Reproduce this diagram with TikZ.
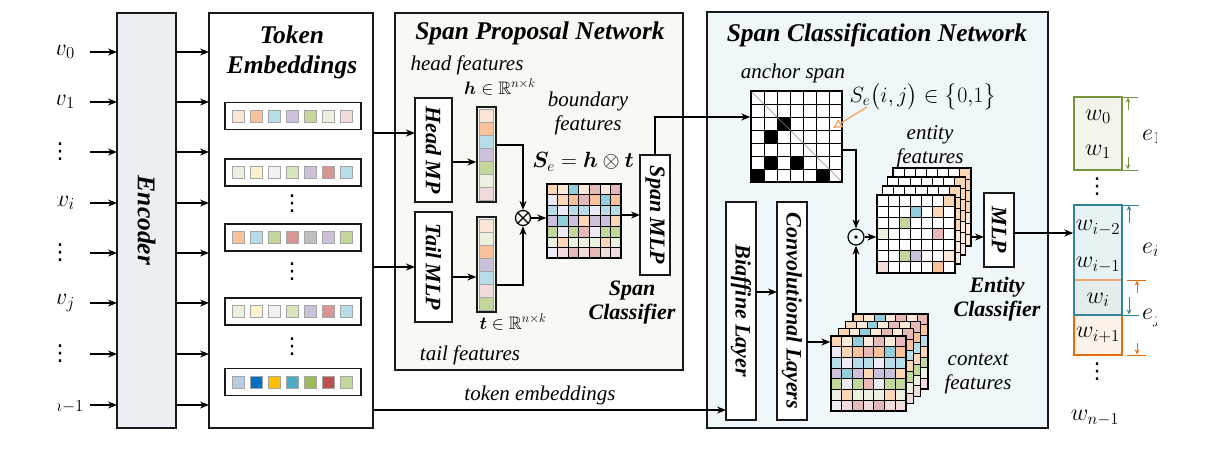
\RequirePackage{fix-cm}
\documentclass[tikz,border=0pt]{standalone}
\usepackage{amsmath,amssymb,bm}
\usepackage{fontspec}
\setmainfont{Liberation Serif}
\newfontfamily\dejavu{DejaVu Sans}
\usetikzlibrary{arrows.meta,calc}
\definecolor{cA}{HTML}{FBE5D6}
\definecolor{cB}{HTML}{F9C29B}
\definecolor{cC}{HTML}{B7DEE8}
\definecolor{cD}{HTML}{CCC0DA}
\definecolor{cE}{HTML}{C4D79B}
\definecolor{cF}{HTML}{EBF1DE}
\definecolor{cG}{HTML}{F2DCDB}
\definecolor{cH}{HTML}{FFF2CC}
\definecolor{cI}{HTML}{F2F2F2}
\definecolor{cJ}{HTML}{D8E4BC}
\definecolor{cK}{HTML}{DA9694}
\definecolor{cL}{HTML}{BFBFBF}
\definecolor{cM}{HTML}{B8CCE4}
\definecolor{cN}{HTML}{0070C0}
\definecolor{cO}{HTML}{FFC000}
\definecolor{cP}{HTML}{4BACC6}
\definecolor{cQ}{HTML}{9BBB59}
\definecolor{cR}{HTML}{C0504D}
\definecolor{cS}{HTML}{92CDDC}
\definecolor{cT}{HTML}{E6B8B7}
\definecolor{cU}{HTML}{FCD5B4}
\definecolor{cV}{HTML}{FDE9D9}
\definecolor{cW}{HTML}{ECEAF2}
\definecolor{encfill}{HTML}{EBEEF3}
\definecolor{spnfill}{HTML}{F7F9F4}
\definecolor{scnfill}{HTML}{EFF7FB}
\definecolor{grn}{HTML}{77933C}
\definecolor{grnfill}{HTML}{F2F5EB}
\definecolor{blu}{HTML}{31849B}
\definecolor{blufill}{HTML}{E7F2F5}
\definecolor{org}{HTML}{E46C0A}
\definecolor{orgfill}{HTML}{FDF2E9}
\definecolor{ovfill}{HTML}{E4ECEC}
\definecolor{sqedge}{HTML}{A6A6A6}
\definecolor{oarrow}{HTML}{F4A460}
\newcommand\titlef{\fontsize{25.5}{30}\selectfont\bfseries\itshape}
\newcommand\labf{\fontsize{21}{24}\selectfont\itshape}
\newcommand\boxf{\fontsize{22}{24}\selectfont\bfseries\itshape}
\newcommand\wf{\fontsize{24}{26}\selectfont}
\newcommand\vd{{\dejavu\fontsize{22}{24}\selectfont ⋮}}
\def\ctxlist{cU,cV,cS,cV,cT,cV,cT,
cW,cU,cB,cT,cB,cS,cB,
cC,cW,cC,cC,cW,cC,cC,
cD,cS,cD,cU,cD,cD,cU,
cE,cW,cE,cT,cW,cE,cE,
cF,cU,cF,cF,cF,cU,cF,
cW,cG,cT,cG,cT,cG,cG}
\def\entlist{white,white,white,white,white,white,cU,
white,white,white,cS,white,cU,white,
white,white,cE,white,white,white,white,
cF,white,white,white,white,cT,white,
white,white,white,white,white,white,white,
white,white,cE,cD,white,white,cV,
cG,white,white,white,white,cB,white}
\def\entback{white,white,white,white,white,white,cU,
white,white,white,white,white,white,cU,
white,white,white,white,white,white,cU,
white,white,white,white,white,white,cU,
white,white,white,white,white,white,cV,
white,white,white,white,white,white,cV,
white,white,white,white,white,white,cV}
\def\anclist{white,white,white,white,white,white,white,
white,white,white,white,white,white,white,
white,white,black,white,white,white,white,
white,black,white,white,white,white,white,
white,white,white,white,white,white,white,
white,black,white,black,white,white,white,
black,white,white,white,white,black,white}
% #1 x0, #2 y0, #3 cell size, #4 grid line width, #5 colour list macro
\newcommand\mygrid[5]{%
  \foreach \cc [count=\gk from 0] in #5 {%
    \pgfmathtruncatemacro\rr{\gk/7}%
    \pgfmathtruncatemacro\ccol{\gk-7*\rr}%
    \fill[\cc] ({#1+\ccol*#3},{#2+\rr*#3}) rectangle ++(#3,#3);
  }%
  \foreach \gi in {1,...,6}{%
    \draw[line width=#4] ({#1+\gi*#3},#2) -- ++(0,{7*#3});
    \draw[line width=#4] (#1,{#2+\gi*#3}) -- ++({7*#3},0);
  }%
}
% token embedding row: #1 centre y, #2..#8 colours
\newcommand\embrow[8]{%
  \foreach \cc [count=\ek from 0] in {#2,#3,#4,#5,#6,#7,#8}{%
    \filldraw[fill=\cc,draw=sqedge,line width=0.8pt] ({232+18*\ek},{#1-6}) rectangle ++(12,12);
  }%
}
\begin{document}
\begin{tikzpicture}[x=1pt,y=-1pt,
  arr/.style={-{Stealth[length=9pt,width=7pt]},line width=1.3pt},
  bigbox/.style={draw=black!90,line width=2pt,inner sep=0pt,outer sep=0pt},
  smallbox/.style={draw=black!90,line width=1.4pt,fill=white,inner sep=0pt,outer sep=0pt},
  rowbox/.style={draw=black!90,line width=1.5pt,inner sep=0pt,outer sep=0pt,minimum width=136pt,minimum height=27pt},
  rot/.style={rotate=-90,inner sep=0pt,font=\boxf},
  lab/.style={inner sep=0pt,font=\labf,align=center},
  dimtip/.style={-{Stealth[length=5pt,width=4.5pt]},line width=1pt},
  celldraw/.style={draw=sqedge,line width=0.7pt}
]
\useasboundingbox (0,0) rectangle (1211,456);
\fill[white] (0,0) rectangle (1211,456);
\clip (57,0) rectangle (1156,456);

% ---------------- Encoder & token embeddings ----------------
\node[bigbox,fill=encfill,minimum width=59pt,minimum height=415pt] (enc) at (146.5,220.5) {};
\node[rot,font=\titlef] (enct) at (enc.center) {Encoder};
\node[bigbox,fill=white,minimum width=164pt,minimum height=415pt] (tok) at (291,220.5) {};
\node[inner sep=0pt,font=\titlef,align=center] (tokt) at (292,52) {\fontsize{25.5}{32}\selectfont Token\\Embeddings};

% input labels and arrows
\foreach \yy/\lbl [count=\n] in {52/$w_0$,102/$w_1$,203/$w_i$,303/$w_j$}{
  \node[anchor=east,inner sep=0pt,font=\wf] (win\n) at (75,\yy) {\lbl};
}
\node[anchor=east,inner sep=0pt,font=\wf] (winl) at (84,405) {$w_{n-1}$};
\foreach \yy [count=\n] in {152,253,354}{
  \node[inner sep=0pt] (wdot\n) at (60,\yy) {\vd};
}
\foreach \yy [count=\n] in {52,102,152,203,253,303,354,405}{
  \coordinate (ia\n) at (90,\yy);
  \draw[arr] (ia\n) -- (ia\n -| enc.west);
  \draw[arr] (ia\n -| enc.east) -- (ia\n -| tok.west);
}

% embedding rows
\node[rowbox] (r1) at (293,116) {};
\node[rowbox] (r2) at (293,172.5) {};
\node[rowbox] (r3) at (293,237.5) {};
\node[rowbox] (r4) at (293,311.5) {};
\node[rowbox] (r5) at (293,382) {};
\embrow{116}{cA}{cB}{cC}{cD}{cE}{cF}{cG}
\embrow{172.5}{cF}{cH}{cI}{cJ}{cD}{cK}{cC}
\embrow{237.5}{cB}{cC}{cE}{cK}{cL}{cD}{cE}
\embrow{311.5}{cF}{cH}{cI}{cJ}{cD}{cK}{cC}
\embrow{382}{cM}{cN}{cO}{cP}{cQ}{cR}{cE}
\foreach \yy [count=\n] in {204,272,347}{
  \node[inner sep=0pt] (tdot\n) at (292,\yy) {\vd};
}

% ---------------- Span Proposal Network ----------------
\node[bigbox,fill=spnfill,minimum width=288pt,minimum height=357pt] (spn) at (539,191.5) {};
\node[inner sep=0pt,font=\titlef] (spnt) at (540,33) {Span Proposal Network};
\node[lab] (headf) at (467,65) {head features};
\node[lab] (tailf) at (470,355) {tail features};
\node[smallbox,minimum width=37pt,minimum height=104pt] (headmp) at (433.5,150) {};
\node[rot] (headmpt) at (headmp.center) {Head MP};
\node[smallbox,minimum width=37pt,minimum height=110pt] (tailmp) at (433.5,267) {};
\node[rot] (tailmpt) at (tailmp.center) {Tail MLP};

% h and t vectors
\foreach \cc [count=\vk from 0] in {cA,cB,cC,cD,cE,cF,cG}{
  \filldraw[fill=\cc,celldraw] (479.5,{109+13.1*\vk}) rectangle ++(14,13.1);
}
\foreach \cc [count=\vk from 0] in {cA,cF,cB,cD,cC,cG,cE}{
  \filldraw[fill=\cc,celldraw] (479.5,{219+13.1*\vk}) rectangle ++(14,13.1);
}
\node[draw=black!90,line width=1.3pt,minimum width=19pt,minimum height=95pt,inner sep=0pt] (hvec) at (486.5,154.5) {};
\node[draw=black!90,line width=1.3pt,minimum width=19pt,minimum height=95pt,inner sep=0pt] (tvec) at (486.5,264.5) {};
\node[inner sep=0pt,font=\fontsize{18}{20}\selectfont] (hlab) at (500,87) {$\bm{h}\in\mathbb{R}^{n\times k}$};
\node[inner sep=0pt,font=\fontsize{18}{20}\selectfont] (tlab) at (513,322) {$\bm{t}\in\mathbb{R}^{n\times k}$};

\coordinate (hmo) at (452,162);
\coordinate (tmo) at (452,277);
\draw[arr] (hmo) -- (hmo -| hvec.west);
\draw[arr] (tmo) -- (tmo -| tvec.west);

% otimes
\node[circle,draw=black,line width=1.2pt,minimum size=15pt,inner sep=0pt] (ot) at (523,218) {};
\draw[line width=1.1pt] (ot.north west) -- (ot.south east) (ot.north east) -- (ot.south west);
\coordinate (hvo) at (496,145);
\coordinate (tvo) at (496,285);
\draw[arr] (hvo) -| (ot.north);
\draw[arr] (tvo) -| (ot.south);

% Se matrix
\mygrid{547}{184}{10.57}{0.7pt}{\ctxlist}
\node[draw=black,line width=1.4pt,minimum size=74pt,inner sep=0pt] (se) at (584,221) {};
\draw[arr] (ot.east) -- (ot.east -| se.west);
\node[lab] (bfeat) at (588,113) {\fontsize{21}{27}\selectfont boundary\\features};
\node[inner sep=0pt,font=\fontsize{22}{26}\selectfont] (selbl) at (583,162) {$\bm{S}_{e}=\bm{h}\otimes\bm{t}$};

\node[smallbox,minimum width=30pt,minimum height=120pt] (spanmlp) at (655,215) {};
\node[rot] (spanmlpt) at (spanmlp.center) {Span MLP};
\draw[arr] (spanmlp.west -| se.east) -- (spanmlp.west);
\node[inner sep=0pt,font=\boxf,align=center] (spcl) at (632,303) {\fontsize{22}{20}\selectfont Span\\Classifier};

% token embeddings to SPN
\coordinate (hin) at (373,133);
\draw[arr] (hin) -- (hin -| headmp.west);
\draw[arr] (tok.east |- tailmp.west) -- (tailmp.west);

% ---------------- Span Classification Network ----------------
\node[bigbox,fill=scnfill,minimum width=341pt,minimum height=416pt] (scn) at (877.5,220) {};
\node[inner sep=0pt,font=\titlef] (scnt) at (877,35) {Span Classification Network};
\node[lab] (ancl) at (793,73) {anchor span};

% anchor span grid
\mygrid{751}{91}{13}{0.8pt}{\anclist}
\draw[black!45,line width=0.6pt] (751,91) -- (842,182);
\node[draw=black,line width=1.4pt,minimum size=91pt,inner sep=0pt] (anchor) at (796.5,136.5) {};
\coordinate (smo) at (655,117);
\draw[arr] (spanmlp.north) -- (smo) -- (smo -| anchor.west);

\node[inner sep=0pt,font=\fontsize{22}{24}\selectfont] (selab) at (923,97) {$S_{e}\bigl(i,j\bigr)\in\bigl\{0{,}1\bigr\}$};
\coordinate (sefrom) at (867,107);
\coordinate (seto) at (833,128);
\draw[oarrow,line width=1.3pt,-{Triangle[open,length=9pt,width=9pt]}] (sefrom) -- (seto);

% odot
\node[circle,draw=black,line width=1.2pt,minimum size=16pt,inner sep=0pt] (odot) at (856,237) {};
\fill (odot.center) circle (1.8pt);
\coordinate (ano) at (842,150);
\draw[arr] (ano) -| (odot.north);

% entity features stack
\foreach \L in {3,2,1}{
  \pgfmathsetmacro\gx{877+5.33*\L}
  \pgfmathsetmacro\gy{195-9*\L}
  \fill[white] (\gx,\gy) rectangle ++(78,78);
  \mygrid{\gx}{\gy}{11.14}{0.7pt}{\entback}
  \draw[line width=1.3pt] (\gx,\gy) rectangle ++(78,78);
}
\node[minimum size=78pt,inner sep=0pt] (entb) at (932,141) {};
\fill[white] (877,195) rectangle ++(78,78);
\mygrid{877}{195}{11.14}{0.7pt}{\entlist}
\node[draw=black,line width=1.3pt,minimum size=78pt,inner sep=0pt] (ent) at (916,234) {};
\draw[arr] (odot.east) -- (odot.east -| ent.west);
\node[lab] (entf) at (930,147) {\fontsize{21}{20}\selectfont entity\\features};

\node[smallbox,minimum width=30pt,minimum height=74pt] (mlp) at (999,230) {};
\node[rot] (mlpt) at (mlp.center) {MLP};
\draw[arr] (entb.east |- odot.east) -- (mlp.west |- odot.east);
\node[inner sep=0pt,font=\boxf,align=center] (entcl) at (997,299) {\fontsize{22}{22}\selectfont Entity\\Classifier};

% biaffine & conv
\node[smallbox,minimum width=30pt,minimum height=218pt] (biaf) at (741,311) {};
\node[rot] (biaft) at (biaf.center) {Biaffine Layer};
\node[smallbox,minimum width=30pt,minimum height=218pt] (conv) at (792,311) {};
\node[rot] (convt) at (conv.center) {Convolutional Layers};
\coordinate (bio) at (756,292);
\draw[arr] (bio) -- (bio -| conv.west);

% context features stack
\foreach \L in {3,2,1}{
  \pgfmathsetmacro\gx{831+7.33*\L}
  \pgfmathsetmacro\gy{336-7.33*\L}
  \fill[white] (\gx,\gy) rectangle ++(75,75);
  \mygrid{\gx}{\gy}{10.71}{0.7pt}{\ctxlist}
  \draw[line width=1.3pt] (\gx,\gy) rectangle ++(75,75);
}
\node[minimum size=75pt,inner sep=0pt] (ctxb) at (890.5,351.5) {};
\fill[white] (831,336) rectangle ++(75,75);
\mygrid{831}{336}{10.71}{0.7pt}{\ctxlist}
\node[draw=black,line width=1.3pt,minimum size=75pt,inner sep=0pt] (ctx) at (868.5,373.5) {};
\coordinate (cvo) at (807,342);
\draw[arr] (cvo) -- (cvo -| ctx.west);
\draw[arr] (odot.south |- ctxb.north) -- (odot.south);
\node[lab] (ctxf) at (978,374) {\fontsize{21}{22}\selectfont context\\features};

% token embeddings line
\coordinate (tein) at (373,410);
\draw[arr] (tein) -- (tein -| biaf.west);
\node[lab] (tel) at (540,395) {token embeddings};

% ---------------- Output ----------------
\node[draw=grn,fill=grnfill,line width=1.5pt,minimum width=48pt,minimum height=73pt,inner sep=0pt] (gbox) at (1098,133.5) {};
\node[draw=org,fill=orgfill,line width=1.5pt,minimum width=48pt,minimum height=75pt,inner sep=0pt] (obox) at (1098,317.5) {};
\node[fill=blufill,minimum width=48pt,minimum height=75pt,inner sep=0pt] (bfill) at (1098,242.5) {};
\fill[ovfill] (1074,280) rectangle (1122,315);
\draw[org!60,line width=1.2pt] (1074,280) -- (1122,280);
\node[draw=blu,line width=1.5pt,minimum width=48pt,minimum height=110pt,inner sep=0pt] (bbox) at (1098,260) {};

\node[inner sep=0pt,font=\wf] (o0) at (1098,117) {$w_0$};
\node[inner sep=0pt,font=\wf] (o1) at (1098,152) {$w_1$};
\node[inner sep=0pt] (od1) at (1097,187) {\vd};
\node[inner sep=0pt,font=\wf] (o2) at (1098,228) {$w_{i-2}$};
\node[inner sep=0pt,font=\wf] (o3) at (1098,265) {$w_{i-1}$};
\node[inner sep=0pt,font=\wf] (o4) at (1098,300) {$w_{i}$};
\node[inner sep=0pt,font=\wf] (o5) at (1098,335) {$w_{i+1}$};
\node[inner sep=0pt] (od2) at (1097,372) {\vd};
\node[inner sep=0pt,font=\wf] (o6) at (1095,418) {$w_{n-1}$};

\coordinate (mout) at (1014,233);
\draw[arr] (mout) -- (mout -| bbox.west);

% dimension marks
\draw[grn,line width=1pt] (1122,97) -- (1138,97) (1122,170) -- (1138,170);
\draw[grn,dimtip] (1128,110) -- (1128,97.5);
\draw[grn,dimtip] (1128,157) -- (1128,169.5);
\draw[blu,line width=1pt] (1122,205) -- (1139,205) (1122,315) -- (1139,315);
\draw[blu,dimtip] (1129,223) -- (1129,205.5);
\draw[blu,dimtip] (1129,297) -- (1129,314.5);
\draw[org,line width=1pt] (1127,280) -- (1146,280) (1127,355) -- (1146,355);
\draw[org,dimtip] (1137,293) -- (1137,280.5);
\draw[org,dimtip] (1137,343) -- (1137,354.5);
\node[anchor=west,inner sep=0pt,font=\wf] (e1) at (1142,137) {$e_1$};
\node[anchor=west,inner sep=0pt,font=\wf] (ei) at (1142,250) {$e_i$};
\node[anchor=west,inner sep=0pt,font=\wf] (ej) at (1142,318) {$e_j$};
\end{tikzpicture}
\end{document}
